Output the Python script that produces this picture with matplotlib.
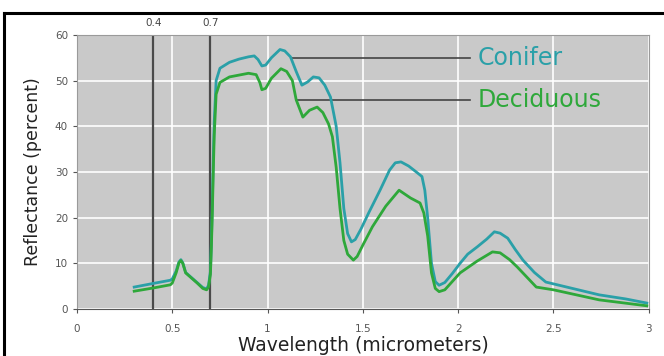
import matplotlib
matplotlib.use("Agg")
import matplotlib.pyplot as plt
from matplotlib.lines import Line2D

# Data
conifer_x = [0.30, 0.40, 0.49, 0.50, 0.52, 0.535, 0.545, 0.555, 0.57, 0.60, 0.63, 0.66, 0.68,
             0.69, 0.70, 0.705, 0.71, 0.715, 0.72, 0.73, 0.75, 0.80, 0.85, 0.90, 0.93, 0.95,
             0.97, 0.99, 1.02, 1.065, 1.09, 1.12, 1.15, 1.18, 1.21, 1.24, 1.27, 1.30, 1.33,
             1.36, 1.38, 1.40, 1.42, 1.44, 1.46, 1.49, 1.53, 1.59, 1.64, 1.67, 1.70, 1.74,
             1.78, 1.81, 1.825, 1.84, 1.86, 1.88, 1.90, 1.93, 1.97, 2.01, 2.05, 2.10, 2.15,
             2.19, 2.22, 2.26, 2.30, 2.34, 2.40, 2.46, 2.57, 2.74, 2.88, 2.99]
conifer_y = [4.8, 5.6, 6.3, 6.6, 8.3, 10.3, 10.8, 10.1, 8.0, 6.9, 5.8, 4.7, 4.4,
             5.2, 8.2, 14.5, 23.0, 33.0, 41.0, 50.0, 52.7, 54.0, 54.7, 55.2, 55.4, 54.6,
             53.2, 53.4, 55.0, 56.8, 56.5, 55.2, 52.0, 49.0, 49.7, 50.8, 50.6, 49.0, 46.4,
             40.0, 32.0, 22.0, 16.5, 14.7, 15.2, 17.5, 21.0, 26.0, 30.4, 32.0, 32.2, 31.3,
             30.0, 29.0, 26.0, 20.0, 10.0, 6.0, 5.2, 5.8, 7.8, 10.0, 12.0, 13.6, 15.3,
             16.9, 16.6, 15.5, 13.0, 10.7, 8.0, 5.9, 4.8, 3.1, 2.2, 1.3]

deciduous_x = [0.30, 0.40, 0.49, 0.50, 0.52, 0.535, 0.545, 0.555, 0.57, 0.60, 0.63, 0.66, 0.68,
               0.69, 0.70, 0.705, 0.71, 0.715, 0.72, 0.73, 0.75, 0.80, 0.85, 0.90, 0.94, 0.96,
               0.97, 0.99, 1.02, 1.07, 1.10, 1.13, 1.15, 1.185, 1.22, 1.26, 1.29, 1.32, 1.34,
               1.36, 1.38, 1.40, 1.42, 1.45, 1.47, 1.50, 1.55, 1.62, 1.69, 1.75, 1.80, 1.82,
               1.84, 1.86, 1.88, 1.90, 1.93, 2.01, 2.10, 2.18, 2.22, 2.27, 2.31, 2.36, 2.41,
               2.50, 2.74, 2.99]
deciduous_y = [3.9, 4.6, 5.3, 5.7, 7.9, 10.1, 10.6, 10.0, 7.9, 6.8, 5.7, 4.5, 4.2,
               4.8, 7.6, 13.5, 21.0, 30.0, 38.0, 47.0, 49.6, 50.8, 51.2, 51.6, 51.3, 49.5,
               48.0, 48.3, 50.5, 52.6, 52.0, 50.0, 45.8, 42.0, 43.5, 44.2, 43.0, 40.5, 37.7,
               31.0, 22.0, 15.0, 12.0, 10.7, 11.5, 14.0, 18.0, 22.5, 26.0, 24.3, 23.2, 21.0,
               16.0, 7.9, 4.5, 3.8, 4.2, 7.9, 10.5, 12.5, 12.3, 10.8, 9.2, 7.0, 4.8,
               4.2, 2.0, 0.7]

x_ticks = [0, 0.5, 1, 1.5, 2, 2.5, 3]
x_tick_labels = ["0", "0.5", "1", "1.5", "2", "2.5", "3"]
y_ticks = [0, 10, 20, 30, 40, 50, 60]
marker_lines = [0.4, 0.7]
labels = ["Conifer", "Deciduous"]
label_anchor = [(1.13, 55.0), (1.15, 45.8)]

teal = "#2aa0a8"
green = "#2ea83a"

plt.rcParams["font.family"] = ["DejaVu Sans"]

fig = plt.figure(figsize=(6.64, 3.56), dpi=100)
ax = fig.add_axes([0.116, 0.132, 0.861, 0.770])
ax.set_facecolor("#c9c9c9")

ax.set_xlim(0, 3)
ax.set_ylim(0, 60)
ax.set_xticks(x_ticks)
ax.set_xticklabels(x_tick_labels)
ax.set_yticks(y_ticks)
ax.grid(True, color="white", linewidth=1.2)
ax.set_axisbelow(True)

for s in ["top", "right", "left"]:
    ax.spines[s].set_color("#9a9a9a")
    ax.spines[s].set_linewidth(0.8)
ax.spines["bottom"].set_color("#555555")
ax.spines["bottom"].set_linewidth(0.8)

ax.tick_params(axis="both", colors="#555555", labelsize=7.5, length=3, width=0.8)
ax.tick_params(axis="x", pad=8)

for xv in marker_lines:
    ax.axvline(xv, color="#4a4a4a", linewidth=1.6, zorder=2)
    ax.text(xv, 61.5, f"{xv}", ha="center", va="bottom", fontsize=7.5, color="#444444")

ax.plot(conifer_x, conifer_y, color=teal, linewidth=2.0, zorder=3,
        solid_joinstyle="round")
ax.plot(deciduous_x, deciduous_y, color=green, linewidth=2.0, zorder=4,
        solid_joinstyle="round")

for (lab, (ax0, ay), col) in zip(labels, label_anchor, [teal, green]):
    ax.plot([ax0, 2.06], [ay, ay], color="#444444", linewidth=1.2, zorder=2)
    ax.text(2.10, ay, lab, color=col, fontsize=17, va="center", ha="left")

ax.set_xlabel("Wavelength (micrometers)", fontsize=13.5, color="#222222", labelpad=1)
ax.set_ylabel("Reflectance (percent)", fontsize=12.5, color="#222222", labelpad=9)

# black frame (cropped screenshot border)
fig.add_artist(Line2D([4 / 664, 1.0], [1 - 13 / 356, 1 - 13 / 356], color="black", linewidth=2.2))
fig.add_artist(Line2D([4 / 664, 4 / 664], [0.0, 1 - 13 / 356], color="black", linewidth=2.2))

fig.savefig("out.png", dpi=100)
